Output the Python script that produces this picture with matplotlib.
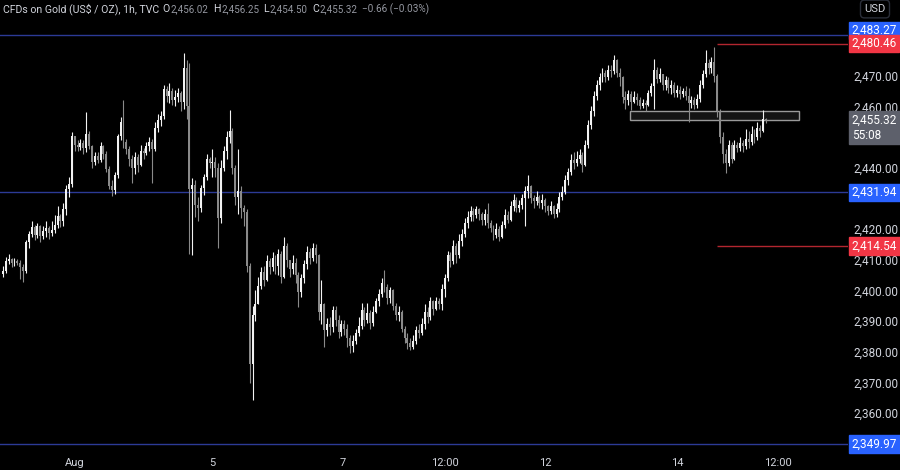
import numpy as np
import matplotlib
matplotlib.use('Agg')
import matplotlib.pyplot as plt
from matplotlib.patches import Rectangle
from matplotlib.text import Annotation
import matplotlib.transforms as mtransforms

# hourly candles, XAUUSD (TVC), Jul 31 -> Aug 15
OPEN_FIRST = 2405.5
CLOSE = [
    2406.5, 2409.5, 2410.2, 2408.8, 2409.6, 2409.0, 2407.8, 2406.2, 2415.8, 2418.5,
    2420.8, 2418.2, 2421.0, 2417.8, 2419.5, 2420.2, 2418.6, 2419.8, 2421.5, 2424.2,
    2422.6, 2426.4, 2433.2, 2434.8, 2450.2, 2447.4, 2446.8, 2448.2, 2446.4, 2451.0,
    2447.0, 2441.8, 2443.8, 2442.6, 2447.0, 2444.5, 2439.5, 2434.0, 2432.6, 2437.5,
    2450.2, 2455.0, 2448.5, 2446.0, 2443.0, 2440.0, 2443.5, 2441.0, 2445.6, 2444.8,
    2447.0, 2448.5, 2446.0, 2453.0, 2455.5, 2456.8, 2465.8, 2463.5, 2465.0, 2462.0,
    2463.0, 2464.5, 2461.5, 2472.5, 2460.0, 2433.0, 2434.5, 2428.0, 2427.0, 2433.5,
    2437.0, 2443.0, 2441.5, 2442.0, 2440.0, 2423.5, 2440.0, 2445.5, 2450.0, 2452.0,
    2440.0, 2430.5, 2432.5, 2427.0, 2425.5, 2408.0, 2376.0, 2392.0, 2395.5, 2401.5,
    2406.0, 2403.5, 2409.5, 2407.5, 2410.5, 2408.0, 2412.0, 2404.5, 2414.5, 2410.0,
    2407.0, 2409.0, 2405.0, 2399.5, 2404.0, 2408.5, 2412.5, 2410.5, 2414.0, 2411.5,
    2393.0, 2395.5, 2387.0, 2389.0, 2388.0, 2393.5, 2390.5, 2386.5, 2389.0, 2387.5,
    2384.5, 2382.0, 2383.5, 2386.0, 2388.5, 2393.5, 2390.5, 2392.5, 2389.5, 2393.0,
    2396.5, 2399.0, 2402.5, 2401.0, 2397.5, 2400.0, 2395.0, 2392.0, 2393.0, 2387.5,
    2384.5, 2383.0, 2381.5, 2383.5, 2387.0, 2386.0, 2389.0, 2393.0, 2391.5, 2396.5,
    2394.0, 2396.5, 2395.5, 2400.5, 2404.0, 2411.5, 2409.5, 2414.5, 2411.5, 2416.0,
    2418.5, 2422.0, 2424.0, 2426.0, 2424.5, 2426.5, 2425.0, 2423.0, 2425.0, 2422.0,
    2420.5, 2418.0, 2420.0, 2417.5, 2421.5, 2424.5, 2423.0, 2427.5, 2429.5, 2427.0,
    2428.0, 2430.0, 2432.5, 2434.0, 2430.0, 2429.0, 2430.5, 2428.5, 2429.5, 2427.5,
    2426.0, 2427.5, 2425.0, 2426.5, 2430.5, 2432.0, 2436.0, 2438.5, 2442.5, 2441.5,
    2443.0, 2444.0, 2441.0, 2447.5, 2454.0, 2458.5, 2463.5, 2467.0, 2469.5, 2471.0,
    2469.5, 2472.0, 2471.5, 2475.0, 2471.0, 2469.5, 2463.0, 2462.0, 2464.0, 2461.5,
    2463.0, 2462.0, 2460.0, 2461.0, 2460.5, 2464.5, 2466.5, 2472.0, 2469.0, 2470.5,
    2467.0, 2468.5, 2466.0, 2467.0, 2464.5, 2465.5, 2464.0, 2465.0, 2463.5, 2461.0,
    2462.0, 2460.5, 2462.5, 2467.0, 2470.5, 2474.0, 2472.5, 2474.5, 2470.0, 2458.5,
    2450.0, 2444.5, 2441.5, 2447.5, 2443.0, 2447.5, 2446.5, 2448.0, 2447.0, 2449.5,
    2448.5, 2451.0, 2450.0, 2453.0, 2452.0, 2456.02, 2455.32,
]
HIGH = [
    2408.0, 2411.0, 2412.0, 2410.5, 2410.5, 2410.2, 2410.0, 2408.5, 2416.5, 2419.5,
    2422.5, 2421.5, 2422.0, 2421.5, 2421.0, 2422.6, 2421.0, 2422.5, 2424.5, 2427.5,
    2425.0, 2428.5, 2434.5, 2437.0, 2451.5, 2450.0, 2449.2, 2449.5, 2449.0, 2458.2,
    2452.0, 2447.5, 2445.0, 2445.2, 2448.5, 2447.5, 2445.5, 2440.5, 2436.0, 2438.5,
    2451.0, 2456.6, 2462.0, 2449.5, 2447.0, 2444.0, 2445.0, 2444.5, 2447.5, 2446.5,
    2448.5, 2450.0, 2449.5, 2455.0, 2457.5, 2458.5, 2467.0, 2466.5, 2467.6, 2466.0,
    2465.5, 2466.0, 2465.0, 2477.4, 2475.0, 2474.0, 2436.5, 2436.0, 2430.5, 2434.5,
    2438.0, 2444.5, 2443.5, 2446.0, 2443.5, 2441.5, 2442.5, 2447.0, 2452.0, 2458.8,
    2453.0, 2441.0, 2446.0, 2434.0, 2428.0, 2426.5, 2409.0, 2395.0, 2400.0, 2404.5,
    2407.5, 2408.0, 2411.5, 2410.5, 2412.5, 2411.5, 2413.5, 2413.0, 2417.4, 2415.5,
    2410.0, 2411.5, 2410.5, 2406.0, 2405.5, 2410.0, 2414.5, 2414.0, 2415.5, 2415.0,
    2412.0, 2403.4, 2396.0, 2391.0, 2391.5, 2395.0, 2395.0, 2392.0, 2390.5, 2390.5,
    2389.0, 2385.5, 2385.5, 2387.5, 2391.5, 2396.0, 2394.5, 2396.0, 2393.5, 2395.0,
    2397.5, 2400.5, 2404.0, 2406.7, 2402.0, 2401.0, 2400.5, 2396.0, 2395.0, 2393.5,
    2388.5, 2386.0, 2384.5, 2385.5, 2388.5, 2389.0, 2391.0, 2395.5, 2394.5, 2398.0,
    2397.0, 2398.0, 2397.5, 2402.0, 2405.5, 2413.0, 2412.5, 2416.5, 2415.5, 2418.5,
    2420.0, 2423.5, 2426.0, 2427.5, 2427.0, 2427.5, 2427.0, 2425.5, 2426.5, 2428.5,
    2423.0, 2421.5, 2422.0, 2421.0, 2422.5, 2426.5, 2426.0, 2429.0, 2431.5, 2430.5,
    2429.5, 2431.5, 2434.0, 2437.5, 2434.5, 2431.0, 2432.5, 2431.0, 2431.5, 2430.0,
    2428.0, 2429.0, 2428.0, 2428.5, 2432.0, 2434.0, 2437.5, 2440.0, 2444.5, 2445.0,
    2445.5, 2446.0, 2445.0, 2449.0, 2455.5, 2460.0, 2465.0, 2468.5, 2471.0, 2472.5,
    2472.0, 2473.5, 2473.5, 2476.8, 2475.5, 2472.5, 2470.0, 2465.0, 2465.5, 2465.0,
    2465.0, 2464.5, 2463.0, 2462.5, 2462.0, 2465.5, 2467.5, 2475.5, 2473.0, 2472.5,
    2470.5, 2470.0, 2469.5, 2468.5, 2468.0, 2467.0, 2466.5, 2466.0, 2466.5, 2466.0,
    2463.5, 2463.0, 2464.0, 2468.5, 2472.0, 2478.4, 2475.5, 2476.0, 2479.4, 2470.5,
    2459.0, 2451.5, 2446.0, 2449.0, 2448.5, 2449.0, 2448.5, 2450.0, 2449.0, 2452.5,
    2452.0, 2453.5, 2452.5, 2455.0, 2454.0, 2458.8, 2456.25,
]
LOW = [
    2404.5, 2405.8, 2408.5, 2407.5, 2408.0, 2408.2, 2403.8, 2402.8, 2405.8, 2414.0,
    2417.5, 2416.5, 2417.2, 2415.8, 2416.8, 2417.5, 2416.8, 2417.6, 2418.8, 2420.4,
    2420.8, 2421.0, 2424.5, 2430.5, 2433.8, 2445.5, 2445.3, 2445.8, 2444.5, 2445.0,
    2446.0, 2440.0, 2441.0, 2441.6, 2442.0, 2443.0, 2438.5, 2433.0, 2430.8, 2431.5,
    2436.5, 2449.0, 2446.5, 2444.5, 2440.5, 2435.0, 2438.0, 2438.5, 2440.5, 2443.0,
    2444.0, 2445.5, 2435.0, 2445.5, 2451.5, 2453.5, 2456.0, 2461.5, 2461.0, 2460.5,
    2460.0, 2461.5, 2458.5, 2459.0, 2456.0, 2412.0, 2411.5, 2424.0, 2422.5, 2425.5,
    2431.0, 2436.0, 2440.0, 2437.0, 2437.0, 2414.0, 2422.0, 2439.0, 2443.0, 2448.0,
    2438.0, 2428.0, 2425.0, 2423.5, 2421.0, 2406.0, 2370.0, 2364.3, 2390.0, 2395.5,
    2400.5, 2401.5, 2403.0, 2405.5, 2406.5, 2405.5, 2405.0, 2402.5, 2404.0, 2407.5,
    2404.5, 2405.5, 2402.5, 2394.7, 2398.0, 2402.5, 2407.0, 2408.5, 2409.5, 2409.0,
    2390.5, 2389.0, 2381.6, 2385.0, 2385.5, 2386.5, 2388.5, 2384.5, 2385.0, 2385.5,
    2381.5, 2379.6, 2379.8, 2382.5, 2385.0, 2387.5, 2388.5, 2389.5, 2387.5, 2388.5,
    2392.5, 2395.0, 2398.0, 2399.5, 2395.5, 2396.0, 2393.5, 2390.5, 2390.0, 2386.5,
    2383.0, 2381.0, 2380.5, 2381.0, 2382.5, 2384.5, 2385.5, 2387.5, 2389.5, 2390.5,
    2392.0, 2393.5, 2394.0, 2393.5, 2398.0, 2403.0, 2407.5, 2408.5, 2409.0, 2410.5,
    2414.5, 2417.5, 2420.5, 2422.5, 2422.5, 2423.5, 2423.0, 2421.5, 2421.5, 2420.5,
    2419.0, 2416.5, 2417.0, 2416.0, 2417.0, 2420.5, 2422.0, 2422.5, 2426.0, 2425.5,
    2425.5, 2426.5, 2421.0, 2430.0, 2428.5, 2427.0, 2428.0, 2427.0, 2426.5, 2425.5,
    2424.5, 2425.0, 2423.5, 2424.0, 2425.5, 2429.5, 2431.5, 2434.5, 2437.5, 2439.5,
    2440.5, 2441.5, 2438.5, 2440.5, 2446.5, 2452.5, 2457.0, 2462.0, 2465.5, 2468.0,
    2468.0, 2468.5, 2469.5, 2470.5, 2469.5, 2466.5, 2461.0, 2459.0, 2460.5, 2458.8,
    2461.0, 2460.5, 2459.0, 2459.5, 2458.5, 2460.0, 2463.5, 2459.0, 2467.5, 2468.0,
    2465.5, 2465.5, 2464.5, 2464.0, 2463.0, 2463.0, 2462.5, 2463.0, 2462.0, 2454.9,
    2459.5, 2459.0, 2459.5, 2461.5, 2466.0, 2469.5, 2470.5, 2471.0, 2468.0, 2456.5,
    2448.0, 2441.5, 2438.3, 2440.5, 2441.5, 2442.5, 2445.0, 2445.5, 2445.0, 2446.0,
    2446.5, 2447.5, 2448.0, 2449.0, 2450.0, 2451.5, 2454.50,
]

# horizontal levels
BLUE_LEVELS = [2483.27, 2431.94, 2349.97]
RED_LEVELS = [2480.46, 2414.54]
ZONE = (2455.6, 2458.5)
LAST_PRICE = 2455.32
COUNTDOWN = '55:08'

# scale labels that the tags do not hide
PRICE_TICKS = [2360, 2370, 2380, 2390, 2400, 2410, 2420, 2440, 2460, 2470]
TIME_LABELS = ['Aug', '5', '7', '12:00', '12', '14', '12:00']
TIME_POS = [25.1, 72.9, 118.5, 154.1, 189.0, 235.0, 270.2]

HEADER = 'CFDs on Gold (US$ / OZ), 1h, TVC'
OHLC = [('O', '2,456.02'), ('H', '2,456.25'), ('L', '2,454.50'), ('C', '2,455.32')]
CHANGE = '\u22120.66 (\u22120.03%)'

assert len(CLOSE) == len(HIGH) == len(LOW)

BG = '#000000'
TXT = '#d1d4dc'
GREY = '#9598a1'
BLUE = '#2962ff'
BLUE_LINE = '#2c3a96'
RED = '#f23645'
UP = '#f2f2f2'
DOWN = '#8a8a8a'

plt.rcParams['font.family'] = ['Roboto', 'DejaVu Sans']

fig = plt.figure(figsize=(9, 4.7), dpi=100, facecolor=BG)
ax = fig.add_axes([0, 20 / 470, 848 / 900, 450 / 470])
ax.set_facecolor(BG)
for s in ax.spines.values():
    s.set_visible(False)

c = np.array(CLOSE)
o = np.concatenate([[OPEN_FIRST], c[:-1]])
h = np.maximum(np.array(HIGH), np.maximum(o, c))
l = np.minimum(np.array(LOW), np.minimum(o, c))
idx = np.arange(len(c))
up = c >= o
colors = np.where(up, UP, DOWN)

ax.vlines(idx, l, h, colors=colors, linewidth=0.8, zorder=3)
body = np.maximum(np.abs(c - o), 0.3)
ax.bar(idx, body, bottom=np.minimum(o, c), width=0.68, color=colors, linewidth=0, zorder=4)

xmin, xmax = -1.05, 294.6
ax.set_xlim(xmin, xmax)
ax.set_ylim(2348.0, 2494.68)

for p in BLUE_LEVELS:
    ax.axhline(p, color=BLUE_LINE, linewidth=1.0, zorder=2)
for p in RED_LEVELS:
    ax.hlines(p, 249, xmax, color='#b3262f', linewidth=1.0, zorder=2)

ax.add_patch(Rectangle((218.6, ZONE[0]), 277.5 - 218.6, ZONE[1] - ZONE[0],
                       facecolor='#141414', edgecolor='#9a9a9a', linewidth=1.0, zorder=2.5))

# axes
ax.set_xticks(TIME_POS)
ax.set_xticklabels(TIME_LABELS)
ax.yaxis.tick_right()
ax.set_yticks(PRICE_TICKS)
ax.set_yticklabels([f'{p:,.2f}' for p in PRICE_TICKS])
ax.tick_params(axis='x', length=0, pad=6, labelsize=8, labelcolor=TXT)
ax.tick_params(axis='y', length=0, pad=4, labelsize=8.5, labelcolor=TXT)

# price tags on right scale (top blue tag pushed up so it clears the red one)
tr = mtransforms.blended_transform_factory(ax.transAxes, ax.transData)
tag = dict(transform=tr, ha='left', va='center', fontsize=8.5, color='white',
           clip_on=False, zorder=10)
tag_shift = {2483.27: 1.5}
for p in BLUE_LEVELS:
    ax.text(1.0045, p + tag_shift.get(p, 0), f'{p:,.2f}',
            bbox=dict(boxstyle='square,pad=0.2', fc=BLUE, ec=BLUE), **tag)
for p in RED_LEVELS:
    ax.text(1.0045, p, f'{p:,.2f}', bbox=dict(boxstyle='square,pad=0.2', fc=RED, ec=RED), **tag)
ax.text(1.0045, LAST_PRICE - 2.2, f'{LAST_PRICE:,.2f}\n{COUNTDOWN}', linespacing=1.2,
        bbox=dict(boxstyle='square,pad=0.2', fc='#5d606b', ec='#5d606b'), **tag)

# header line
fs = 7.6
y0 = 1 - 9 / 470
fig.text(3 / 900, y0, HEADER, color=TXT, fontsize=fs, va='center')
for (k, v), x in zip(OHLC, [162, 213, 263, 312]):
    key = fig.text(x / 900, y0, k, color=TXT, fontsize=fs, va='center')
    fig.add_artist(Annotation(v, xy=(1, 0.5), xycoords=key, xytext=(1, 0),
                              textcoords='offset pixels', va='center', ha='left',
                              color=GREY, fontsize=7.0))
fig.text(362 / 900, y0, CHANGE, color=GREY, fontsize=7.2, va='center')

fig.text(875 / 900, y0, 'USD', color=TXT, fontsize=8, ha='center', va='center',
         bbox=dict(boxstyle='round,pad=0.35', fc=BG, ec='#2a2e39'))

fig.savefig('out.png', dpi=100, facecolor=BG)
